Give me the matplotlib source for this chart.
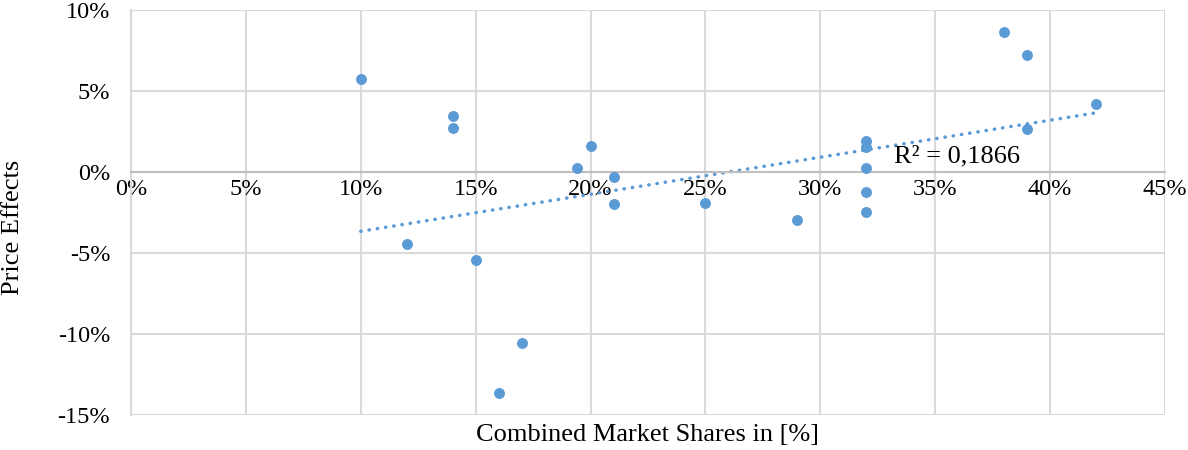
import numpy as np
import matplotlib
matplotlib.use('Agg')
from matplotlib import pyplot as plt
from matplotlib.ticker import FuncFormatter

# combined market share (%) and price effect (%) per merger
market_share = [10, 14, 14, 20, 19.4, 21, 21, 12, 15, 17, 16, 25, 29,
                32, 32, 32, 32, 32, 38, 39, 39, 42]
price_effect = [5.74, 3.43, 2.70, 1.59, 0.27, -0.28, -2.0, -4.43, -5.42,
                -10.54, -13.65, -1.92, -2.99, 1.92, 1.55, 0.25, -1.24,
                -2.48, 8.62, 7.24, 2.64, 4.21]
r2_label = 'R² = 0,1866'

blue = '#5B9BD5'
grid_col = '#D9D9D9'

plt.rcParams['font.family'] = ['Liberation Serif', 'DejaVu Serif']

fig = plt.figure(figsize=(11.88, 4.5), dpi=100)
ax = fig.add_axes([0.1103, 0.0778, 0.8703, 0.9])

ax.scatter(market_share, price_effect, s=62, color=blue, zorder=3,
           linewidths=0)

# linear trendline
slope, icpt = np.polyfit(market_share, price_effect, 1)
xs = np.array([min(market_share), max(market_share)])
ax.plot(xs, slope * xs + icpt, color=blue, lw=2.5,
        linestyle=(0, (0.1, 2.3)), dash_capstyle='round', zorder=2)
ax.text(33.2, 0.95, r2_label, fontsize=19, ha='left', va='center')

ax.set_xlim(0, 45)
ax.set_ylim(-15, 10)
ax.set_xticks(np.arange(0, 46, 5))
ax.set_yticks(np.arange(-15, 11, 5))
pct = FuncFormatter(lambda v, p: '%d%%' % v)
ax.xaxis.set_major_formatter(pct)
ax.yaxis.set_major_formatter(pct)

ax.grid(True, color=grid_col, lw=1.5)
ax.set_axisbelow(True)
for s in ['top', 'right']:
    ax.spines[s].set_visible(False)
ax.spines['bottom'].set_position(('data', 0))
ax.spines['bottom'].set_color('#BFBFBF')
ax.spines['bottom'].set_linewidth(1.5)
ax.spines['left'].set_color(grid_col)
ax.spines['left'].set_linewidth(1.5)
ax.tick_params(axis='both', length=0, labelsize=17.5)
ax.tick_params(axis='y', pad=15)
ax.tick_params(axis='x', pad=5)

fig.text(0.545, 0.008, 'Combined Market Shares in [%]', fontsize=19,
         ha='center', va='bottom')
fig.text(0.002, 0.495, 'Price Effects', fontsize=19, rotation=90,
         ha='left', va='center')

plt.savefig('out.png', dpi=100)
plt.close()
